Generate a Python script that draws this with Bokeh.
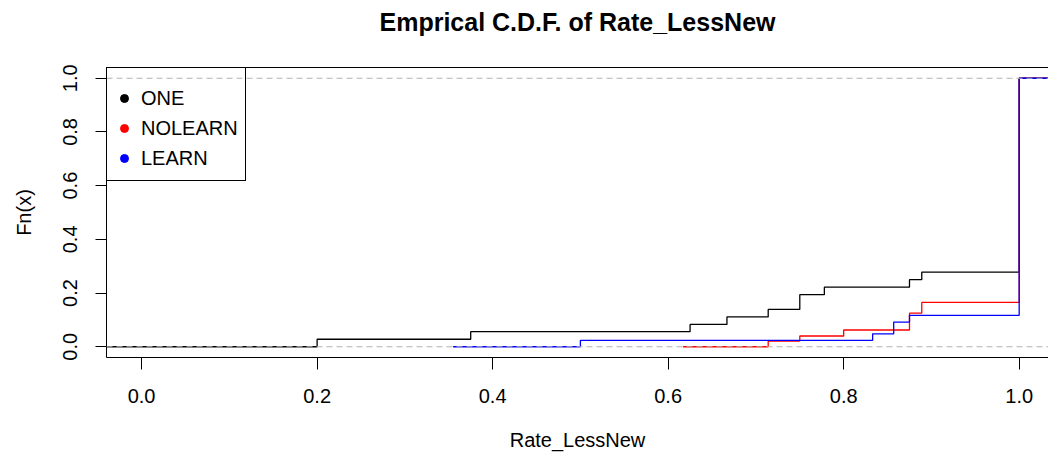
from bokeh.plotting import figure
from bokeh.models import (Range1d, FixedTicker, LinearAxis, Span, Legend,
                          LegendItem, PrintfTickFormatter)
from bokeh.embed import file_html
from bokeh.resources import INLINE

# ---------------- data ----------------
title_text = "Emprical C.D.F. of Rate_LessNew"
x_label = "Rate_LessNew"
y_label = "Fn(x)"

series_names = ["ONE", "NOLEARN", "LEARN"]
series_colors = ["#000000", "#FF0000", "#0000FF"]

# jump points (knots) and the ECDF value reached at each knot
one_knots = [0.2, 0.375, 0.625, 0.667, 0.714, 0.75, 0.778, 0.875, 0.889, 1.0]
one_fn = [0.028, 0.056, 0.083, 0.111, 0.139, 0.194, 0.222, 0.25, 0.278, 1.0]

nolearn_knots = [0.714, 0.75, 0.8, 0.875, 0.889, 1.0]
nolearn_fn = [0.021, 0.040, 0.0625, 0.125, 0.165, 1.0]

learn_knots = [0.5, 0.833, 0.857, 0.875, 1.0]
learn_fn = [0.024, 0.048, 0.092, 0.117, 1.0]

# extent of each drawn step curve (left start, right end)
one_extent = [-0.1, 1.12]
nolearn_extent = [0.617, 1.12]
learn_extent = [0.355, 1.12]

x_ticks = [0.0, 0.2, 0.4, 0.6, 0.8, 1.0]
x_tick_labels = ["0.0", "0.2", "0.4", "0.6", "0.8", "1.0"]
y_ticks = [0.0, 0.2, 0.4, 0.6, 0.8, 1.0]
y_tick_labels = ["0.0", "0.2", "0.4", "0.6", "0.8", "1.0"]
ref_levels = [0.0, 1.0]

FONT = "Liberation Sans"
NAN = float("nan")

# ---------------- figure ----------------
p = figure(width=1048, height=463,
           x_range=Range1d(-0.04, 1.0334), y_range=Range1d(-0.04, 1.04),
           output_backend="svg", toolbar_location=None,
           min_border_left=106, min_border_right=0,
           min_border_top=67, min_border_bottom=106,
           title=title_text)
p.outline_line_color = None
p.grid.visible = False
p.background_fill_color = "white"
p.border_fill_color = "white"

p.title.text_font = FONT
p.title.text_font_size = "25px"
p.title.text_font_style = "bold"
p.title.text_color = "black"
p.title.align = "center"
p.title.standoff = 0
p.title.offset = 8

# step curves
curves = [(one_knots, one_fn, one_extent),
          (nolearn_knots, nolearn_fn, nolearn_extent),
          (learn_knots, learn_fn, learn_extent)]
legend_items = []
for (knots, fn, ext), name, col in zip(curves, series_names, series_colors):
    xs = [ext[0]] + knots + [ext[1]]
    ys = [0.0] + fn + [fn[-1]]
    p.step(xs, ys, mode="after", line_color=col, line_width=1.3)
    dot = p.scatter(x=[NAN], y=[NAN], marker="circle", color=col)
    legend_items.append(LegendItem(label=name, renderers=[dot]))

for lv in ref_levels:
    p.add_layout(Span(location=lv, dimension="width", line_color="#B3B3B3",
                      line_dash="6 4", line_width=1.2))

# axes
xa = p.xaxis[0]
xa.ticker = FixedTicker(ticks=x_ticks)
xa.formatter = PrintfTickFormatter(format="%.1f")
xa.major_label_overrides = dict(zip(x_ticks, x_tick_labels))
xa.major_tick_out = 12
xa.major_tick_in = 0
xa.minor_tick_out = 0
xa.minor_tick_in = 0
xa.major_label_standoff = 19
xa.axis_label = x_label
xa.axis_label_standoff = 23

ya = p.yaxis[0]
ya.ticker = FixedTicker(ticks=y_ticks)
ya.formatter = PrintfTickFormatter(format="%.1f")
ya.major_label_overrides = dict(zip(y_ticks, y_tick_labels))
ya.major_tick_out = 11
ya.major_tick_in = 0
ya.minor_tick_out = 0
ya.minor_tick_in = 0
ya.major_label_orientation = "vertical"
ya.major_label_standoff = 18
ya.axis_label = y_label
ya.axis_label_standoff = 26

for ax in (xa, ya):
    ax.axis_line_color = "black"
    ax.axis_line_width = 1
    ax.major_tick_line_color = "black"
    ax.major_tick_line_width = 1
    ax.major_label_text_font = FONT
    ax.major_label_text_font_size = "20px"
    ax.major_label_text_color = "black"
    ax.axis_label_text_font = FONT
    ax.axis_label_text_font_size = "20px"
    ax.axis_label_text_font_style = "normal"
    ax.axis_label_text_color = "black"

# top border of the box (ticks/labels hidden); its blank label sets the title gap
top = LinearAxis(ticker=FixedTicker(ticks=[]), major_tick_out=0, major_tick_in=0,
                 minor_tick_out=0, minor_tick_in=0, major_label_standoff=0,
                 major_label_text_font_size="0px", axis_line_color="black",
                 axis_label=" ", axis_label_text_font_size="20px",
                 axis_label_standoff=7)
p.add_layout(top, "above")

legend = Legend(items=legend_items, location="top_left", margin=0, padding=7,
                spacing=0, glyph_width=20, glyph_height=30, label_height=30,
                label_standoff=7, label_text_font=FONT, label_text_font_size="20px",
                label_text_color="black", border_line_color="black",
                border_line_width=1, border_line_alpha=1.0,
                background_fill_alpha=0,
                title=" ", title_text_font_size="7px", title_standoff=1)
p.add_layout(legend)

open("out.html", "w").write(file_html(p, INLINE))
